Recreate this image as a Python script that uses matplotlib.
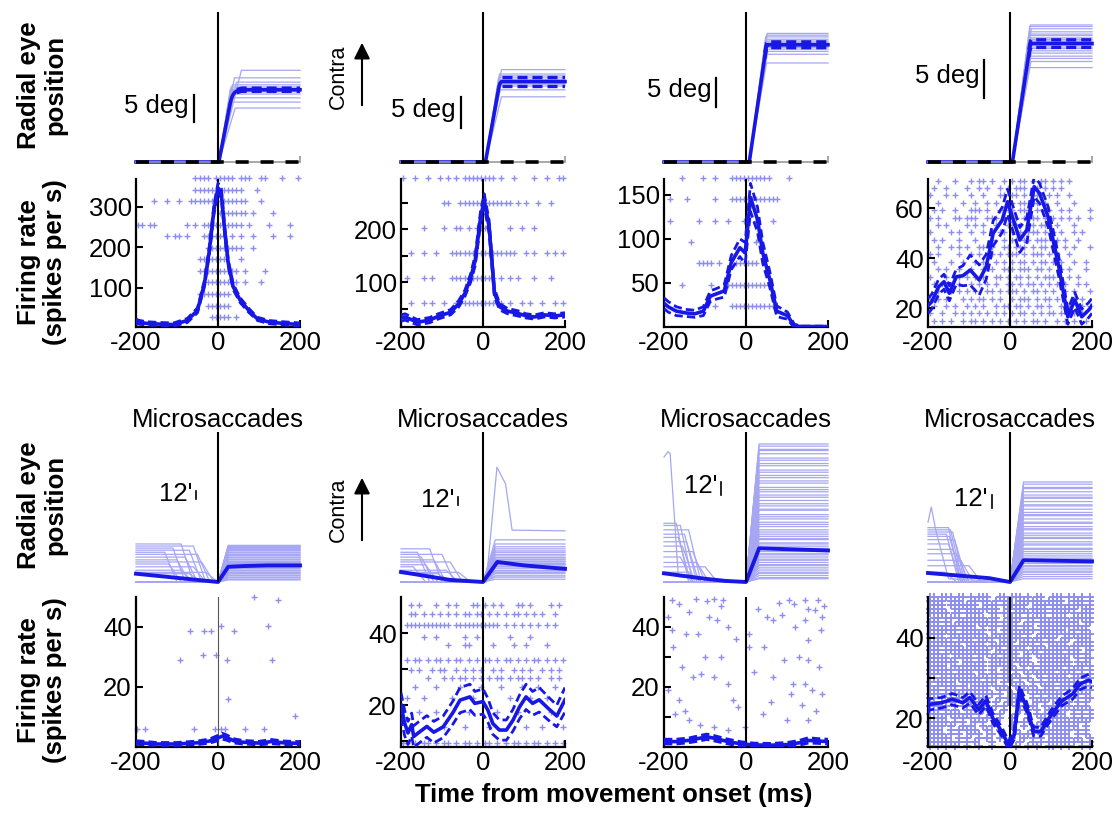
import numpy as np
import matplotlib.pyplot as plt

plt.rcParams['font.family'] = ['Liberation Sans', 'DejaVu Sans']
plt.rcParams['axes.unicode_minus'] = False

W, H = 1119, 814
LIGHT = '#a6a6f3'
DOT = '#8e8ef0'
BLUE = '#1717e6'
FS = 18.5

# ---------------- saccades: eye traces (plateau in deg, time plateau reached in ms)
sac_amp = [
    [17.0, 15.6, 14.8, 14.3, 13.9, 13.5, 13.3, 13.1, 13.0, 12.6, 11.9, 11.1, 10.0],
    [14.6, 13.9, 13.6, 13.3, 13.0, 12.8, 12.7, 12.5, 12.3, 12.0, 11.4, 10.3],
    [22.2, 21.9, 21.6, 21.2, 20.9, 20.7, 20.5, 20.3, 20.2, 20.0, 19.8, 19.5, 19.1, 18.6, 17.1],
    [18.0, 17.8, 17.5, 17.1, 16.8, 16.6, 16.3, 16.1, 15.9, 15.8, 15.7, 15.5, 15.4, 15.1,
     14.9, 14.6, 14.3, 13.9, 13.6, 13.2, 12.4],
]
sac_end = [
    [57, 40, 45, 35, 32, 30, 35, 30, 33, 38, 30, 35, 42],
    [45, 40, 42, 38, 40, 42, 40, 38, 44, 40, 42, 45],
    [52, 50, 48, 50, 47, 50, 52, 49, 50, 48, 51, 50, 53, 49, 50],
    [50, 48, 52, 47, 50, 49, 51, 48, 50, 52, 49, 50, 47, 51, 50, 48, 52, 49, 50, 51, 48],
]
sac_onset = [2, 6, 8, 6]
sac_se = [0.3, 0.7, 0.5, 0.5]

# ---------------- saccades: firing rate
sac_rate_t = [
    [-200, -195, -175, -140, -108, -75, -50, -33, -21, -10, 0, 8, 17, 25, 37, 54, 75, 96, 125, 158, 200],
    [-200, -190, -160, -130, -113, -79, -60, -44, -30, -19, -6, 3, 15, 28, 41, 60, 84, 105, 126, 150, 175, 200],
    [-200, -190, -170, -147, -125, -104, -87, -70, -53, -36, -15, -2, 11, 28, 41, 58, 75, 90, 101, 118, 140, 170, 200],
    [-200, -191, -174, -161, -148, -131, -115, -97, -75, -58, -41, -19, -6, 3, 24, 41, 59, 72, 93, 119,
     141, 158, 175, 192, 200],
]
sac_rate = [
    [18, 16, 13, 11, 10, 20, 45, 111, 193, 292, 346, 333, 235, 161, 103, 70, 45, 24, 16, 13, 10],
    [32, 34, 24, 28, 34, 43, 58, 79, 108, 141, 222, 255, 204, 79, 53, 45, 41, 36, 34, 38, 36, 38],
    [27, 23, 18, 16, 15, 18, 35, 38, 41, 73, 90, 84, 147, 122, 84, 54, 18, 15, 13, 1, 0.5, 0.5, 0.5],
    [21, 22.6, 28.6, 30.6, 26, 32.6, 33, 35.3, 31.3, 36.6, 50, 55.3, 62.6, 58, 47.3, 51.3, 68.6, 66,
     56.6, 36.6, 16.6, 23.3, 16.6, 19.3, 21],
]
sac_rate_se = [
    [6, 5, 4, 4, 4, 5, 6, 8, 10, 12, 12, 12, 10, 8, 7, 6, 5, 4, 4, 4, 4],
    [6, 6, 5, 5, 5, 5, 6, 6, 8, 10, 12, 12, 12, 8, 6, 5, 5, 4, 4, 4, 4, 4],
    [6, 6, 5, 4, 4, 5, 6, 6, 7, 8, 10, 12, 16, 14, 12, 9, 6, 5, 4, 2, 0.5, 0.5, 0.5],
    [3, 3, 3, 3, 3, 3, 4, 6, 6, 5, 5, 5, 5, 5, 5, 5, 4, 4, 4, 4, 3, 3, 3, 3, 3],
]

# spike rasters: one string per trial, one character per 10 ms bin from -200 ms
sac_raster_1 = [
    ".......... ....++++.+ ++++.+++.. ++...+...+",
    ".......... ....++++++ ++++++...+ ..........",
    "....+..+.. +..+++++++ +++++++... +.........",
    ".......... .......... +++++++.+. ...+......",
    "++.++..... ..+.+.++++ +.++++.+.. ..+....+..",
    ".......+.+ +.+...++++ ++.+.+..+. ...+...+..",
    ".......... .......+++ ++++++..+. ..........",
    ".......... .....+++++ ++...+.... ..........",
    ".......... .....+++++ +++++.+... .+........",
    ".......... .......+++ +++.+.+... +.........",
    ".......... .....+++++ +++....... ..........",
    ".......... .......+++ +++....... ..........",
    ".......... ........++ +++.+..... ..........",
]
sac_raster_2 = [
    "+..+..+..+ .+.+.+++++ +++.+..+.. ..+..+..++",
    ".......... ++..++++++ +++++++.+. +..+..+...",
    ".....+.... +..++.+.++ +.....+..+ ..+.......",
    "..+..+..+. ..++++++++ ++++++++.. +.+..+.+.+",
    ".+...+.+.. ..++++++++ +++.+.+.+. ..+...+...",
    "..+..+.+.. +..+++++++ +++++.+..+ .+..+..+.+",
]
sac_raster_3 = [
    "....+....+ ..+...++++ ++++++.... +.........",
    ".+...+.... ..+...++++ ++++++++.. ..........",
    ".+......+. ..+..+...+ ..+...+... ..........",
    "......+... .......... ..+....... ..........",
    "........++ ++.+...+++ +++....... ..........",
    "....+..... .+...+++++ ++++++.... ..........",
    ".......... ..+...++++ +++++++... ..........",
]
sac_raster_4 = [
    "..+...+... +.++.+..+. +.++.+.++. +.+.+.....",
    ".+..+....+ ..+.+..+.+ .+++.++.+. +.+.......",
    "+...+.+... +..+...++. ++.+.+++.+ .+..+.....",
    "..+.....+. .+..+.+..+ +.++.++.+. .+...+....",
    ".+.+..+... +++.+..+.+ +.+++.+.++ ..+.+....+",
    "+.+...++.+ ++..+++.++ .+.+.++.+. +.+.+.+..+",
    "..+.+....+ .+.+..+..+ +++.++.+++ .+...+....",
    "+....+.+.. +..+.+.++. +.+.+++.+. +.+..+.+..",
    ".+.+...+.. .+...+..+. ++.++.+++. .+.+..+...",
    "..+..+.+.+ ..++.+..++ .+++.+.++. +..+.+...+",
    "+.+....+.. +.+..+.+.+ ++.+.+++.+ .+..+.....",
    ".+...+..+. .+.+..+.+. +.++.+.++. +.+..+..+.",
    "..+.+..+.. +..+.+..++ +.+++.++.+ ..+.+...+.",
    "+...+..+.+ .+.+..++.+ .++.+.+.++ +...+.+...",
    ".+.+...+.. +.+.+.+..+ +.+.++.+.+ .+.+..+.+.",
    "..+..+.+.+ .+..++.+.+ ++.+.++.+. +..+.+...+",
    "+.+.+...+. +.++.+.+.. +.+++.+.++ .+...+.+..",
    ".+..+.+..+ .+.+..+.++ .++.+.++.+ ..+.+..+.+",
    "+..+..+.+. +.+.+.+.+. +.++.+.+.+ +.+..+.+..",
    ".+.+.+..+. ++.+.+.+.+ .+.+.++.+. .+.+.+..+.",
]
sac_raster = [sac_raster_1, sac_raster_2, sac_raster_3, sac_raster_4]

# ---------------- microsaccades: eye traces (arcmin)
mic_amp = [
    [53, 52, 51, 50, 49, 48, 47, 46, 45, 43, 42, 40, 39, 38, 36, 35, 33, 32, 30, 29, 28, 27, 26, 25,
     23, 22, 21, 20, 19, 17, 16, 14, 13, 12, 10, 9, 7, 6, 4, 3],
    [61, 55, 51, 48, 45, 43, 40, 39, 36, 35, 33, 32, 30, 29, 27, 26, 25, 23, 22, 20, 17, 16, 14, 12, 9, 7, 4],
    [127, 125, 122, 121, 118, 114, 112, 109, 107, 103, 101, 98, 96, 93, 91, 87, 85, 83, 80, 78, 75, 72,
     70, 67, 66, 62, 60, 58, 55, 53, 51, 48, 46, 44, 42, 40, 39, 36, 35, 33, 31, 30, 28, 26, 25, 23,
     21, 20, 18, 16, 15, 13, 11, 9, 8, 6, 4, 3],
    [92, 90, 87, 86, 83, 80, 78, 77, 74, 71, 70, 67, 64, 62, 61, 58, 55, 54, 51, 49, 48, 45, 43, 41,
     40, 37, 35, 34, 31, 30, 28, 26, 24, 22, 21, 19, 17, 15, 14, 12, 10, 9, 7, 5, 3],
]
mic_rise = [25, 30, 32, 33]
pre_lvl = [
    [55, 52, 49, 46, 43, 40, 36, 32, 29, 26, 22, 17, 14, 12],
    [48, 43, 40, 36, 32, 29, 25, 22, 17, 14, 12],
    [54, 52, 48, 44, 41, 37, 33, 28, 23, 18, 14, 9],
    [50, 48, 46, 44, 42, 39, 35, 30, 26, 20, 15, 9],
]
pre_hold = [
    [-90, -60, -110, -70, -130, -50, -80, -100, -40, -120, -60, -90, -30, -70],
    [-130, -160, -100, -150, -120, -80, -140, -170, -90, -60, -110],
    [-170, -160, -140, -150, -165, -145, -155, -130, -160, -120, -100, -140],
    [-150, -145, -140, -155, -148, -135, -150, -140, -130, -120, -100, -160],
]
odd_t = [None, [-200, 8, 34, 55, 71, 200], [-200, -190, -185, -165, 0], [-200, -192, -180, -150, 0]]
odd_v = [None, [0, 0, 166, 142, 75, 74], [115, 120, 118, 5, 0], [55, 69, 46, 3, 0]]
mic_mean_t = [[-200, -100, 0, 25, 60, 120, 200], [-200, -80, 0, 35, 100, 200],
              [-200, -100, -50, 0, 32, 200], [-200, -50, 0, 33, 200]]
mic_mean_v = [[12, 6, 0, 22, 23, 24, 24], [14.5, 3, 0, 29, 24, 19],
              [8, 3, 1, 0, 31, 29], [8.3, 3.5, 0, 20, 19]]

# ---------------- microsaccades: firing rate
mic_rate_t = [
    [-200, -180, -150, -100, -50, -20, 0, 10, 20, 40, 60, 100, 130, 160, 200],
    [-200, -191, -183, -174, -169, -158, -137, -120, -97, -73, -56, -32, -20, 0, 12, 24, 40, 57, 73,
     89, 105, 121, 137, 160, 180, 200],
    [-200, -170, -140, -110, -96, -80, -50, -36, -10, 20, 60, 100, 130, 152, 175, 200],
    [-200, -197, -167, -141, -115, -98, -76, -59, -42, -20, -3, 10, 23, 41, 58, 75, 101, 127, 153, 171, 192, 200],
]
mic_rate = [
    [1.5, 1.3, 1.0, 1.0, 1.4, 2.0, 3.0, 3.6, 3.2, 2.0, 1.6, 1.3, 1.8, 1.4, 1.2],
    [20, 15, 12.3, 14.6, 11.3, 12.3, 14.1, 12.5, 14, 18, 21.4, 22.3, 20.5, 21, 18.6, 14.9, 13.1, 13.1,
     15.8, 19.5, 22.3, 20.5, 21.5, 19, 17, 21.5],
    [1.8, 1.8, 2.2, 3.0, 3.4, 3.0, 2.0, 1.6, 1.0, 0.7, 0.6, 0.8, 1.4, 2.2, 2.0, 1.8],
    [22.5, 23.4, 23.8, 24.7, 23.8, 25.1, 22.1, 24.3, 20, 16.6, 13.2, 15.7, 26.8, 22.6, 16.6, 16.6, 20.9,
     24.3, 26, 28.5, 29.4, 29],
]
mic_rate_se = [
    [0.6, 0.6, 0.5, 0.5, 0.6, 0.7, 0.9, 1.0, 0.9, 0.7, 0.6, 0.6, 0.7, 0.6, 0.6],
    [3.5, 3.5, 3.2, 3.2, 3.0, 3.0, 3.0, 3.0, 3.0, 3.2, 3.5, 3.5, 3.3, 3.5, 3.3, 3.0, 2.8, 2.8, 3.0, 3.3,
     3.5, 3.3, 3.4, 3.2, 3.0, 3.4],
    [0.8, 0.8, 0.8, 0.9, 0.9, 0.9, 0.8, 0.8, 0.7, 0.6, 0.6, 0.7, 0.8, 0.9, 0.8, 0.8],
    [1.3, 1.4, 1.3, 1.4, 1.3, 1.4, 1.3, 1.3, 1.2, 1.1, 1.0, 1.1, 1.3, 1.2, 1.1, 1.1, 1.2, 1.2, 1.3, 1.4, 1.5, 1.5],
]

# sparse rasters given as (time ms, level) points
mic_dots_1_t = [87, 146, -68, -33, -18, 8, 39, 121, -92, -36, -4, 22, 132, 25, 187,
                -198, -177, -58, -8, 7, 17, 65, 113]
mic_dots_1_y = [50, 49, 38.7, 38.7, 38.7, 40.2, 38.7, 40.2, 29, 30.7, 30.7, 29, 29, 16, 10.5,
                6, 6, 6, 6, 6, 6, 6, 6]
mic_dots_3_t = [-181, -164, -121, -96, -79, -57, -91, -70, -44, -117, -190, -181, -147, -177, -156,
                -130, -109, -79, -44, -32, -19, -190, -164, -173, -138, -113, -79, -44, 7, 50, 67,
                105, 118, 144, 152, 169, 186, 144, 152, 182, 7, 45, 92, 152, 178, 67, 114, 144, 109,
                161, 186, 41, 101, 152, -2, -60, -140, 30, 80, 175, 190, 120, -100, -60, 20, 130,
                60, -150, 170, -25, 88, 136]
mic_dots_3_y = [49.1, 47.8, 49.5, 48.7, 49.5, 49, 43.3, 42.2, 40, 37.8, 43.3, 38.9, 37.8, 33.3, 26.7,
                23.3, 24.4, 23.3, 21.1, 15.6, 13.3, 18.9, 15.6, 11.1, 8.9, 7.2, 6.7, 5.6, 37.8, 43.3,
                42.2, 49.1, 47.8, 49.1, 46.1, 45.6, 43.3, 42.2, 35.6, 38.9, 33.3, 33.3, 28.9, 28.9,
                26.7, 23.3, 21.1, 21.1, 17.8, 18.9, 17.8, 11.1, 8.9, 8.9, 6.7, 47, 45, 46, 48, 49,
                47, 40, 30, 30, 25, 30, 15, 12, 12, 36, 44, 14]

mic_raster_2_lvl = [47.7, 45.4, 42.3, 38.9, 36.6, 32.4, 29.7, 27.5, 25.1, 22.0, 18.0, 14.0, 9.5]
mic_raster_2 = [
    "..+.+...+. .+.+...++. +.+.+...++ .+....+.+.",
    "..++.+.+.+ .+.+.++.++ .+.+.+.++. +.+.+..+..",
    ".+++++++++ ++.+++++++ ++++.+.+.+ .+.+.+.+..",
    ".....+..+. .....+..+. ......+... .+........",
    ".......... .+...++... ..+....+.. +....+....",
    ".+.++.+.++ .+.++.+.+. ++.+.++.+. +.++.+.+.+",
    "..+.+..+.+ +..+.+.+.+ ..+.+..+.+ .+..+.+.+.",
    "......+... +.+.++.+.+ .+.++.+.++ .+.+..+.+.",
    "...+....+. ....+....+ ....+....+ ...+...+..",
    ".+...+.... ..+....+.. ......+... .+...+....",
    "....+...+. ......+... ...+....+. ......+...",
    "..+....... +....+.... .+........ +...+....+",
    "++.+.++.+. ++.+.++.+. ++.+.+.++. +.++.+.+.+",
]
mic_raster_4 = [
    "++.+++.++. +.+++..++. +++.+.++.. +++.++.+.+",
    "+.++.+++.. ++.++.+.++ ..++++.+.+ +.+..+++.+",
    ".+++.+.+++ .+..+++.+. ++.+..+++. +++.+.++.+",
    "++.+..++.+ ++.++.+..+ .+++.++.+. ++.+++..++",
    "+.+++.++.+ .++..++.++ .++.+.+++. +.++.+.+++",
    ".++.++.+.+ ++.+.++..+ +.+.++.++. ++.+.+++.+",
    "+++.+..+++ .++.+++.+. .+..++.+++ .++.++..++",
    "+.+.+++.++ +..+.++.++ ++.++..+.+ +.+++.+.+.",
    ".++++.+.+. ++.+.+..++ .+.+++.++. +++..+.++.",
    "++.+.++.++ .+++..+.+. +.+.+..+++ .+.+++.+.+",
    "+.++.+.+++ +.+.++.+.+ .++.+.++.+ +..++.+++.",
    ".+.+++.+.+ +.++.+..++ +..+++.+.+ +.++..++.+",
    "+++.+.++.. ++.+.+++.+ +.++.+.+.. ++.+.++.++",
    "+.+.++.+++ .++.+..+.+ .+.+.++.++ .++.+.+..+",
    ".++.+.++.+ +.+++.+.+. ++..+.+.++ +.+.+++.+.",
    "++.++.+.+. +.+..++.++ .+.++..+.+ ++.+..+.++",
    "+.+.+++..+ +.++.+.+.+ +.+.+..++. +.+++.+.+.",
    ".+++..+.++ .+.+.++.+. +..+.+.+.+ .++.+.++.+",
    "+.+.++.+.+ +.++.+..++ .+.+.+.++. +.+.++.+.+",
    "++.+.+.++. +..+.++.+. .+..+.++.+ +.++.+.+.+",
    ".+.++.++.+ .++.+.+.++ +.+.+..+.+ .+.+.++.++",
    "+.++.+..++ +.+.++..+. +.+..+.+.+ +.+.+.+.+.",
    "+.+.+++.+. .+.++.+.+. .+.+.+..++ +.++.+.+.+",
    ".++.+.+.++ +.+.+..+.+ ..+.+.+.+. +.+.+.++.+",
    "+.+.++.+.+ .+.+.+.+.. +.+..+.+.+ .++.+.+.+.",
    "++.+.+.+.+ ..+.+..+.+ .+...+.+.+ +.+.+.+.++",
    ".+.+.++.+. +.+.+.+..+ +..+..+.+. .+.++.+.+.",
    "+.+.+.+.++ .+..+.+.+. .+.+.+..+. +.+.+.+.+.",
    ".++.+.+..+ .+.+.+..+. ..+.+.+..+ .+.+.+.+.+",
    "+.+.++.+.+ +.+..+.+.. .+..+.+.+. +.+..+.+.+",
    ".+.+..+.+. +.+.+..+.. +...+..+.+ .+.+.+.+.+",
    "+.+.+.+.+. .+.+..+... .+.+...+.. +.+.+.+.+.",
    ".+.+.+..+. +..+.+.... +..+..+.+. .+.+.+..+.",
    "+.+..+.+.+ .+..+..+.. .+...+.+.+ +.+.+.+.+.",
    ".+.+.+.+.. +.+..+.... ..+.+..+.+ .+.+..+.+.",
    "+.+.+..+.+ ..+.+..+.. +..+.+.+.. +.+.+.+..+",
    ".+.+.+.+.+ .+...+.... ..+..+.+.+ .+.+.+.+.+",
    "+.+.+.+..+ ..+..+.... .+..+.+..+ +.+.+..+.+",
]

# ---------------- layout (figure pixels)
col_left = [136, 401, 664, 928]
col_w = 164
rows_px = {'eye1': (12, 150), 'fire1': (179, 148), 'eye2': (432, 150), 'fire2': (597, 150)}
sac_ylim = [(0, 27.8), (0, 23.7), (0, 25.9), (0, 19.7)]
sac_bar = [(-59, 7.4), (-54, 5.3), (-72, 9.5), (-63, 8.4)]
sac_rate_ylim = [(4, 368), (15, 295), (0, 168), (12.5, 71.7)]
sac_rate_ticks = [[100, 200, 300], [100, 200], [50, 100, 150], [20, 40, 60]]
sac_rate_minor = [[], [50, 150, 250], [], []]
sac_raster_lvl = [(370, 28), (296, 61), (169, 24), (71, 15)]
mic_ylim = [(0, 217), (0, 217), (0, 138), (0, 138)]
mic_bar = [(-53, 120), (-60, 111), (-60, 80), (-45, 68)]
mic_rate_ylim = [(0, 50), (8.4, 50), (0, 50), (12.8, 50.1)]
mic_rate_minor = [[], [10, 30], [10, 30], [30]]


def add_ax(fig, col, row):
    top, h = rows_px[row]
    return fig.add_axes([col_left[col] / W, 1 - (top + h) / H, col_w / W, h / H])


def raster_times(row):
    row = row.replace(' ', '')
    return [-195 + 10 * i for i, c in enumerate(row) if c == '+']


def plot_dots(ax, ts, ys, ms=3.8, mew=1.0):
    ax.plot(ts, ys, ls='none', marker='+', ms=ms, mew=mew, color=DOT, clip_on=False, zorder=1)


def plot_raster(ax, rows, levels, ms=3.8, mew=1.0):
    for r, y in zip(rows, levels):
        t = raster_times(r)
        plot_dots(ax, t, [y] * len(t), ms, mew)


def style_rate(ax, ylim, ticks, minor):
    ax.set_xlim(-200, 200)
    ax.set_ylim(*ylim)
    ax.set_xticks([-200, 0, 200], ['-200', '0', '200'])
    ax.set_yticks(ticks, [str(v) for v in ticks])
    ax.set_yticks(minor, minor=True)
    for s in ['top', 'right']:
        ax.spines[s].set_visible(False)
    for s in ['left', 'bottom']:
        ax.spines[s].set_linewidth(1.6)
    ax.tick_params(which='both', direction='in', length=5, width=1.5, labelsize=FS, pad=3)
    ax.set_facecolor('none')


def plot_rate(ax, t, m, se, vcolor='k', vlw=1.5):
    t, m, se = np.array(t), np.array(m), np.array(se)
    ax.axvline(0, color=vcolor, lw=vlw, zorder=2)
    for sign in (1, -1):
        ax.plot(t, m + sign * se, color=BLUE, lw=2, dashes=(3, 1.5), zorder=3)
    ax.plot(t, m, color=BLUE, lw=2.6, zorder=4)


fig = plt.figure(figsize=(W / 100, H / 100), dpi=100)

grid = np.arange(-200, 201, 2)
for c in range(4):
    # ---- saccade eye position
    ax = add_ax(fig, c, 'eye1')
    curves = []
    for a, te in zip(sac_amp[c], sac_end[c]):
        tt = [-200, sac_onset[c], te, 200]
        vv = [0, 0, a, a]
        ax.plot(tt, vv, color=LIGHT, lw=0.9, clip_on=False)
        curves.append(np.interp(grid, tt, vv))
    mean = np.mean(curves, axis=0)
    plat = grid > 45
    for sign in (1, -1):
        ax.plot(grid[plat], mean[plat] + sign * sac_se[c], color=BLUE, lw=2.4, dashes=(3, 1.5))
    ax.plot(grid, mean, color=BLUE, lw=2.6, clip_on=False)
    ax.axvline(0, color='k', lw=1.5)
    ax.plot([-200, 200], [0, 0], color='k', lw=2.6, dashes=(3.6, 3.3), clip_on=False, zorder=5)
    ax.set_xlim(-200, 200)
    ax.set_ylim(*sac_ylim[c])
    for s in ['top', 'right', 'left']:
        ax.spines[s].set_visible(False)
    ax.spines['bottom'].set_color('#999999')
    ax.spines['bottom'].set_linewidth(1.2)
    ax.set_xticks([200], [''])
    ax.set_yticks([])
    ax.tick_params(axis='x', direction='in', length=4, width=1.2, color='#999999')
    bx, by = sac_bar[c]
    ax.plot([bx, bx], [by, by + 5], color='k', lw=1.6)
    ax.text(bx - 12, by + 2.9, '5 deg', ha='right', va='center', fontsize=FS)

    # ---- saccade firing rate
    ax = add_ax(fig, c, 'fire1')
    lo, hi = sac_raster_lvl[c]
    plot_raster(ax, sac_raster[c], np.linspace(lo, hi, len(sac_raster[c])))
    plot_rate(ax, sac_rate_t[c], sac_rate[c], sac_rate_se[c])
    style_rate(ax, sac_rate_ylim[c], sac_rate_ticks[c], sac_rate_minor[c])

    # ---- microsaccade eye position
    ax = add_ax(fig, c, 'eye2')
    for a in mic_amp[c]:
        ax.plot([-200, 0, mic_rise[c], 200], [0, 0, a, a], color=LIGHT, lw=0.9, clip_on=False)
    for lv, hd in zip(pre_lvl[c], pre_hold[c]):
        ax.plot([-200, hd, hd + 30, 0], [lv, lv, 0, 0], color=LIGHT, lw=0.9, clip_on=False)
    if odd_t[c] is not None:
        ax.plot(odd_t[c], odd_v[c], color=LIGHT, lw=0.9, clip_on=False)
    ax.plot(mic_mean_t[c], mic_mean_v[c], color=BLUE, lw=2.8, clip_on=False)
    ax.axvline(0, color='k', lw=1.5)
    ax.set_xlim(-200, 200)
    ax.set_ylim(*mic_ylim[c])
    ax.axis('off')
    bx, by = mic_bar[c]
    ax.plot([bx, bx], [by, by + 12], color='k', lw=1.2)
    ax.text(bx - 10, by + 8, "12'", ha='right', va='center', fontsize=FS)
    ax.set_title('Microsaccades', fontsize=FS, pad=3)

    # ---- microsaccade firing rate
    ax = add_ax(fig, c, 'fire2')
    if c == 0:
        plot_dots(ax, mic_dots_1_t, mic_dots_1_y)
    elif c == 1:
        plot_raster(ax, mic_raster_2, mic_raster_2_lvl)
    elif c == 2:
        plot_dots(ax, mic_dots_3_t, mic_dots_3_y)
    else:
        plot_raster(ax, mic_raster_4, np.linspace(50, 13, len(mic_raster_4)), ms=5.2, mew=1.4)
    if c == 0:
        plot_rate(ax, mic_rate_t[c], mic_rate[c], mic_rate_se[c], vcolor='#555555', vlw=0.8)
    else:
        plot_rate(ax, mic_rate_t[c], mic_rate[c], mic_rate_se[c])
    style_rate(ax, mic_rate_ylim[c], [20, 40], mic_rate_minor[c])

# row labels
for y in (85, 505):
    fig.text(42 / W, 1 - y / H, 'Radial eye\nposition', rotation=90, ha='center', va='center',
             multialignment='center', fontsize=FS, fontweight='bold', linespacing=1.1)
for y in (262, 680):
    fig.text(42 / W, 1 - y / H, 'Firing rate\n(spikes per s)', rotation=90, ha='center', va='center',
             multialignment='center', fontsize=FS, fontweight='bold', linespacing=1.1)

# contra arrows
for ytxt, y0, y1 in ((77, 108, 40), (510, 543, 475)):
    fig.text(338 / W, 1 - ytxt / H, 'Contra', rotation=90, ha='center', va='center', fontsize=15.5)
    fig.axes[0].annotate('', xy=(362, H - y1), xytext=(362, H - y0), xycoords='figure pixels',
                         textcoords='figure pixels', annotation_clip=False,
                         arrowprops=dict(arrowstyle='-|>', color='k', lw=1.5, mutation_scale=24))

fig.text(614 / W, 1 - 795 / H, 'Time from movement onset (ms)', ha='center', va='center',
         fontsize=FS, fontweight='bold')

fig.savefig('out.png', dpi=100)
